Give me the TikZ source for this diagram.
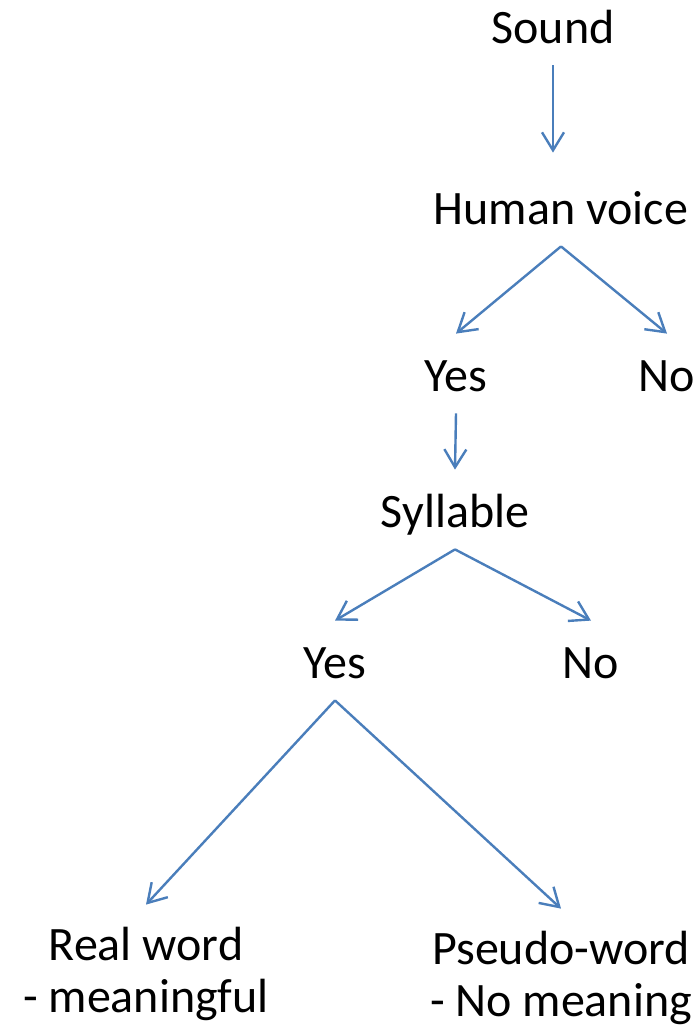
\documentclass[tikz,border=0pt]{standalone}
\usepackage{fontspec}
\setmainfont{Carlito}
\usepackage{tikz}
\usetikzlibrary{arrows.meta}
\definecolor{arrowblue}{RGB}{74,126,187}

\begin{document}
\begin{tikzpicture}[x=0.5pt,y=-0.5pt,
	every node/.style={font=\fontsize{24}{26}\selectfont,inner sep=0pt,anchor=base,align=center,text height=28.5pt,text depth=11pt},
	twoline/.style={text height=53.5pt},
	branch/.style={draw=arrowblue,line width=1.2pt,-{Straight Barb[length=9pt,width=11pt]}}]
		\useasboundingbox (0,0) rectangle (700,1030);
		\node (sound) at (553,43) {Sound};
		\node (voice) at (561,224) {Human voice};
		\node (yesA) at (456,391) {Yes};
		\node (noA) at (667,391) {No};
		\node (syll) at (455,527) {Syllable};
		\node (yesB) at (335,678) {Yes};
		\node (noB) at (591,678) {No};
		% base is the last line here
		\node[twoline] (real) at (146,1012) {Real word\\- meaningful};
		\node[twoline] (pseudo) at (561,1016) {Pseudo-word\\- No meaning};
		\draw[branch,shorten >=7pt] (sound.south) -- (sound.south |- voice.north);
		\draw[branch] (voice.south) -- (yesA.north);
		\draw[branch] (voice.south) -- (noA.north);
		\draw[branch] (yesA.south) -- (syll.north);
		\draw[branch] (syll.south) -- (yesB.north);
		\draw[branch] (syll.south) -- (noB.north);
		\draw[branch] (yesB.south) -- (real.north);
		\draw[branch] (yesB.south) -- (pseudo.north);
\end{tikzpicture}
\end{document}
